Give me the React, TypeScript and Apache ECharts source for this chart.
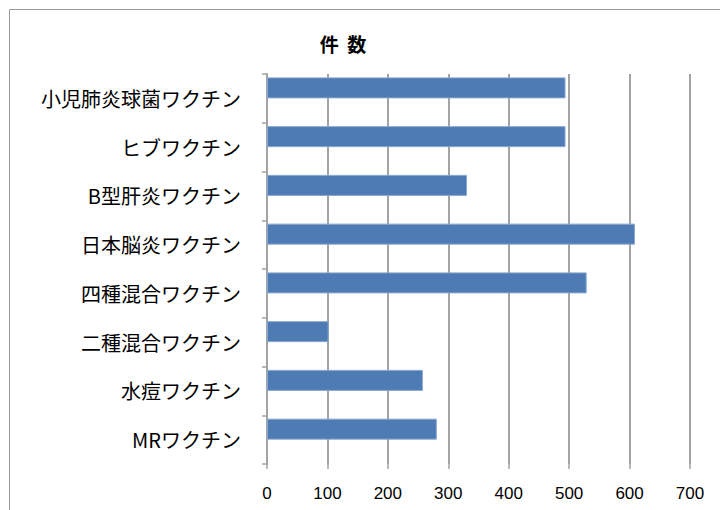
import React, { useEffect, useRef } from "react";
import * as echarts from "echarts";

const categories = [
  "小児肺炎球菌ワクチン",
  "ヒブワクチン",
  "B型肝炎ワクチン",
  "日本脳炎ワクチン",
  "四種混合ワクチン",
  "二種混合ワクチン",
  "水痘ワクチン",
  "MRワクチン",
];
const counts = [494, 494, 331, 609, 529, 102, 258, 281];
// second (empty) series in the original spreadsheet chart, which shifts bars upward in each band
const emptySeries = [null, null, null, null, null, null, null, null];
const xTicks = { min: 0, max: 700, interval: 100 };
const titleText = "件  数";

export default function App() {
  const ref = useRef<HTMLDivElement>(null);
  useEffect(() => {
    if (!ref.current) return;
    const chart = echarts.init(ref.current, null, { renderer: "svg" });
    const grey = "#a3a3a3";
    chart.setOption({
      animation: false,
      backgroundColor: "#ffffff",
      title: {
        text: titleText,
        left: 338,
        top: 29,
        textAlign: "center",
        textStyle: {
          fontFamily: "Noto Sans CJK JP",
          fontSize: 19,
          fontWeight: "bold",
          color: "#000",
        },
      },
      graphic: [
        {
          type: "rect",
          shape: { x: 9.5, y: 9.5, width: 740, height: 540 },
          style: { fill: "none", stroke: "#9a9a9a", lineWidth: 1 },
          silent: true,
        },
      ],
      grid: { left: 267, top: 74, right: 30, bottom: 46 },
      xAxis: {
        type: "value",
        min: xTicks.min,
        max: xTicks.max,
        interval: xTicks.interval,
        axisLine: { show: false },
        axisTick: { show: true, length: 5, lineStyle: { color: grey, width: 1.5 } },
        splitLine: { show: true, lineStyle: { color: grey, width: 2 } },
        axisLabel: {
          margin: 21,
          fontFamily: "Liberation Sans, Arial, sans-serif",
          fontSize: 17,
          color: "#000",
        },
      },
      yAxis: {
        type: "category",
        data: categories,
        inverse: true,
        axisLine: { show: true, lineStyle: { color: grey, width: 2 } },
        axisTick: { show: true, length: 5, lineStyle: { color: grey, width: 1.5 } },
        axisLabel: {
          margin: 26,
          fontFamily: "Noto Sans CJK JP",
          fontSize: 20,
          color: "#000",
        },
      },
      series: [
        {
          type: "bar",
          data: counts,
          barWidth: 21,
          barGap: "0%",
          itemStyle: { color: "#4e7bb3", borderColor: "#87a7d0", borderWidth: 1 },
        },
        {
          type: "bar",
          data: emptySeries,
          barWidth: 21,
          barGap: "0%",
          itemStyle: { color: "#c0504d" },
        },
      ],
    });
    return () => chart.dispose();
  }, []);
  return (
    <div
      ref={ref}
      style={{ position: "fixed", left: 0, top: 0, width: 720, height: 510 }}
    />
  );
}
